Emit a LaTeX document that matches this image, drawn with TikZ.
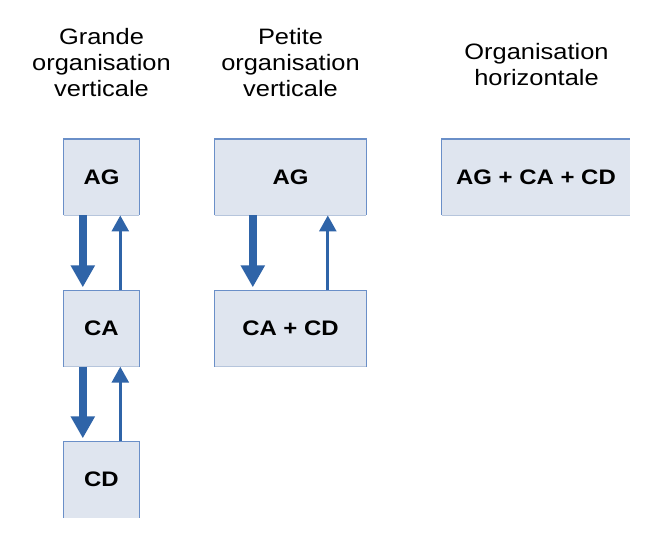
\documentclass[tikz,border=0pt]{standalone}
\usepackage{fontspec}
\setmainfont{Liberation Sans}[FakeStretch=1.14]
\usetikzlibrary{arrows.meta}
\definecolor{boxfill}{HTML}{DFE5EF}
\definecolor{boxline}{HTML}{6A8FC8}
\definecolor{boxbot}{HTML}{B6C5DC}
\definecolor{arrowcol}{HTML}{2F64A8}
\tikzset{
  boxstyle/.style={fill=boxfill, inner sep=0pt, minimum width=#1, minimum height=76pt,
    font=\fontsize{21}{25}\selectfont\bfseries},
  titlestyle/.style={inner sep=0pt, align=center, font=\fontsize{22.3}{26}\selectfont, anchor=base},
  bigarrow/.style={draw=arrowcol, line width=8pt, -{Triangle[width=23pt,length=22pt]}, shorten >=3pt},
  smallarrow/.style={draw=arrowcol, line width=2.8pt, -{Triangle[width=17pt,length=16pt]}},
  sideline/.style={draw=boxline, line width=1.3pt},
  botline/.style={draw=boxbot, line width=1.3pt}
}
\begin{document}
\begin{tikzpicture}[x=1pt,y=-1pt]
\useasboundingbox (0,0) rectangle (660,542);
% titles
\node[titlestyle] (t1a) at (101.5,44) {Grande};
\node[titlestyle] (t1b) at (101.5,70) {organisation};
\node[titlestyle] (t1c) at (101.5,96) {verticale};
\node[titlestyle] (t2a) at (290.5,44) {Petite};
\node[titlestyle] (t2b) at (290.5,70) {organisation};
\node[titlestyle] (t2c) at (290.5,96) {verticale};
\node[titlestyle] (t3a) at (536.5,59) {Organisation};
\node[titlestyle] (t3b) at (536.5,85) {horizontale};
% boxes
\node[boxstyle=75pt] (gAG) at (101.5,177.25) {AG};
\node[boxstyle=75pt] (gCA) at (101.5,328.5) {CA};
\node[boxstyle=75pt] (gCD) at (101.5,479.5) {CD};
\node[boxstyle=151pt] (pAG) at (290.5,177.25) {AG};
\node[boxstyle=151pt] (pCC) at (290.5,328.5) {CA + CD};
\node[boxstyle=188pt] (hAll) at (536,177.25) {AG + CA + CD};
% borders
\foreach \n in {gAG,gCA,pAG,pCC}{
  \draw[sideline] (\n.south west) -- (\n.north west) -- (\n.north east) -- (\n.south east);
  \draw[botline] (\n.south west) -- (\n.south east);
}
\draw[sideline] (gCD.south west) -- (gCD.north west) -- (gCD.north east) -- (gCD.south east);
\draw[sideline] (hAll.south west) -- (hAll.north west) -- (hAll.north east);
\draw[botline] (hAll.south west) -- (hAll.south east);
% arrows
\draw[bigarrow] ([xshift=19pt]gAG.south west) -- ([xshift=19pt]gCA.north west);
\draw[smallarrow] ([xshift=56.5pt]gCA.north west) -- ([xshift=56.5pt]gAG.south west);
\draw[bigarrow] ([xshift=19pt]gCA.south west) -- ([xshift=19pt]gCD.north west);
\draw[smallarrow] ([xshift=56.5pt]gCD.north west) -- ([xshift=56.5pt]gCA.south west);
\draw[bigarrow] ([xshift=38pt]pAG.south west) -- ([xshift=38pt]pCC.north west);
\draw[smallarrow] ([xshift=113pt]pCC.north west) -- ([xshift=113pt]pAG.south west);
\end{tikzpicture}
\end{document}
